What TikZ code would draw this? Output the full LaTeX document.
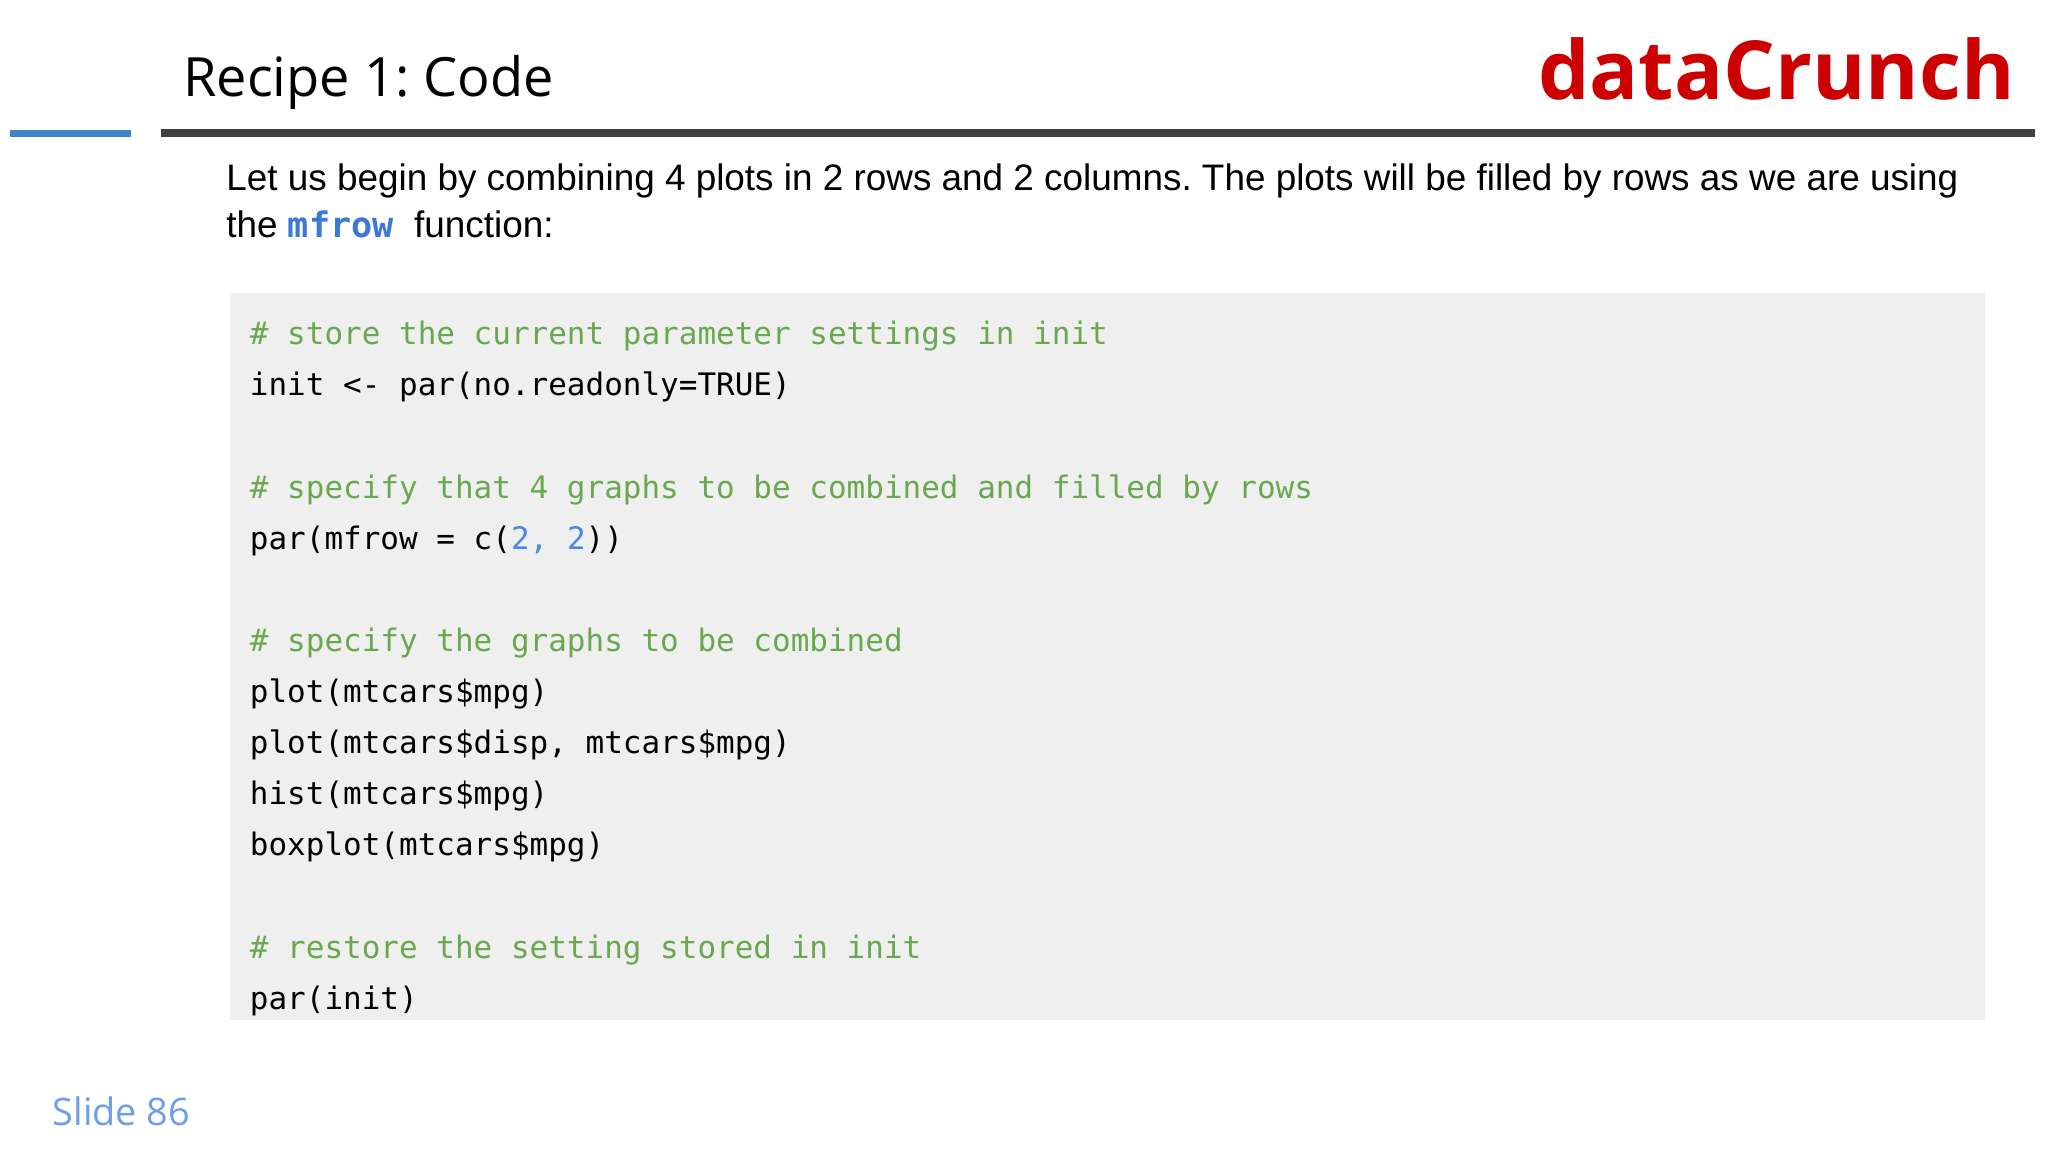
\documentclass[tikz,border=0pt]{standalone}
\usepackage{fontspec}
\setmainfont{Liberation Sans}
\newfontfamily\titlefont{Open Sans}
\newfontfamily\codefont{DejaVu Sans Mono}
\definecolor{cmt}{HTML}{6AA84F}
\definecolor{num}{HTML}{4A86E8}
\definecolor{kw}{HTML}{3C78D8}
\definecolor{brand}{HTML}{CC0000}
\definecolor{slideblue}{HTML}{6D9EEB}
\definecolor{bar}{HTML}{3D85C6}
\definecolor{codebg}{HTML}{EFEFEF}
\frenchspacing
\begin{document}
\begin{tikzpicture}[x=0.02cm,y=-0.02cm,
  txt/.style={anchor=base west,inner sep=0pt},
  code/.style={txt,font=\codefont\fontsize{13.5pt}{16pt}\selectfont}]
\useasboundingbox (0,0) rectangle (1568,882);
\fill[white] (0,0) rectangle (1568,882);
\fill[bar] (8,99.5) rectangle (100,105);
\fill[black!75] (123,99) rectangle (1558,105);
\node[txt,font=\titlefont\fontsize{23.6pt}{28pt}\selectfont] (title) at (140,74) {Recipe 1: Code};
\node[txt,font=\titlefont\bfseries\fontsize{35.5pt}{38pt}\selectfont,text=brand,anchor=base east] (brand) at (1543,76) {dataCrunch};
\node[txt,font=\fontsize{16.07pt}{18pt}\selectfont] (p1) at (173,146) {Let us begin by combining 4 plots in 2 rows and 2 columns. The plots will be filled by rows as we are using};
\node[txt,font=\fontsize{16.07pt}{18pt}\selectfont] (p2) at (173,182) {the {\codefont\bfseries\fontsize{15.3pt}{18pt}\selectfont\color{kw}mfrow} \ function:};
\fill[codebg] (176,224) rectangle (1520,781);
\node[code,text=cmt] (c1) at (191,264) {\# store the current parameter settings in init};
\node[code] (c2) at (191,303) {init <- par(no.readonly=TRUE)};
\node[code,text=cmt] (c3) at (191,382) {\# specify that 4 graphs to be combined and filled by rows};
\node[code] (c4) at (191,421) {par(mfrow = c({\color{num}2, 2}))};
\node[code,text=cmt] (c5) at (191,499) {\# specify the graphs to be combined};
\node[code] (c6) at (191,538) {plot(mtcars\$mpg)};
\node[code] (c7) at (191,577) {plot(mtcars\$disp, mtcars\$mpg)};
\node[code] (c8) at (191,616) {hist(mtcars\$mpg)};
\node[code] (c9) at (191,655) {boxplot(mtcars\$mpg)};
\node[code,text=cmt] (c10) at (191,734) {\# restore the setting stored in init};
\node[code] (c11) at (191,773) {par(init)};
\node[txt,font=\titlefont\fontsize{16.5pt}{20pt}\selectfont,text=slideblue] (slide) at (40,862) {Slide 86};
\end{tikzpicture}
\end{document}
